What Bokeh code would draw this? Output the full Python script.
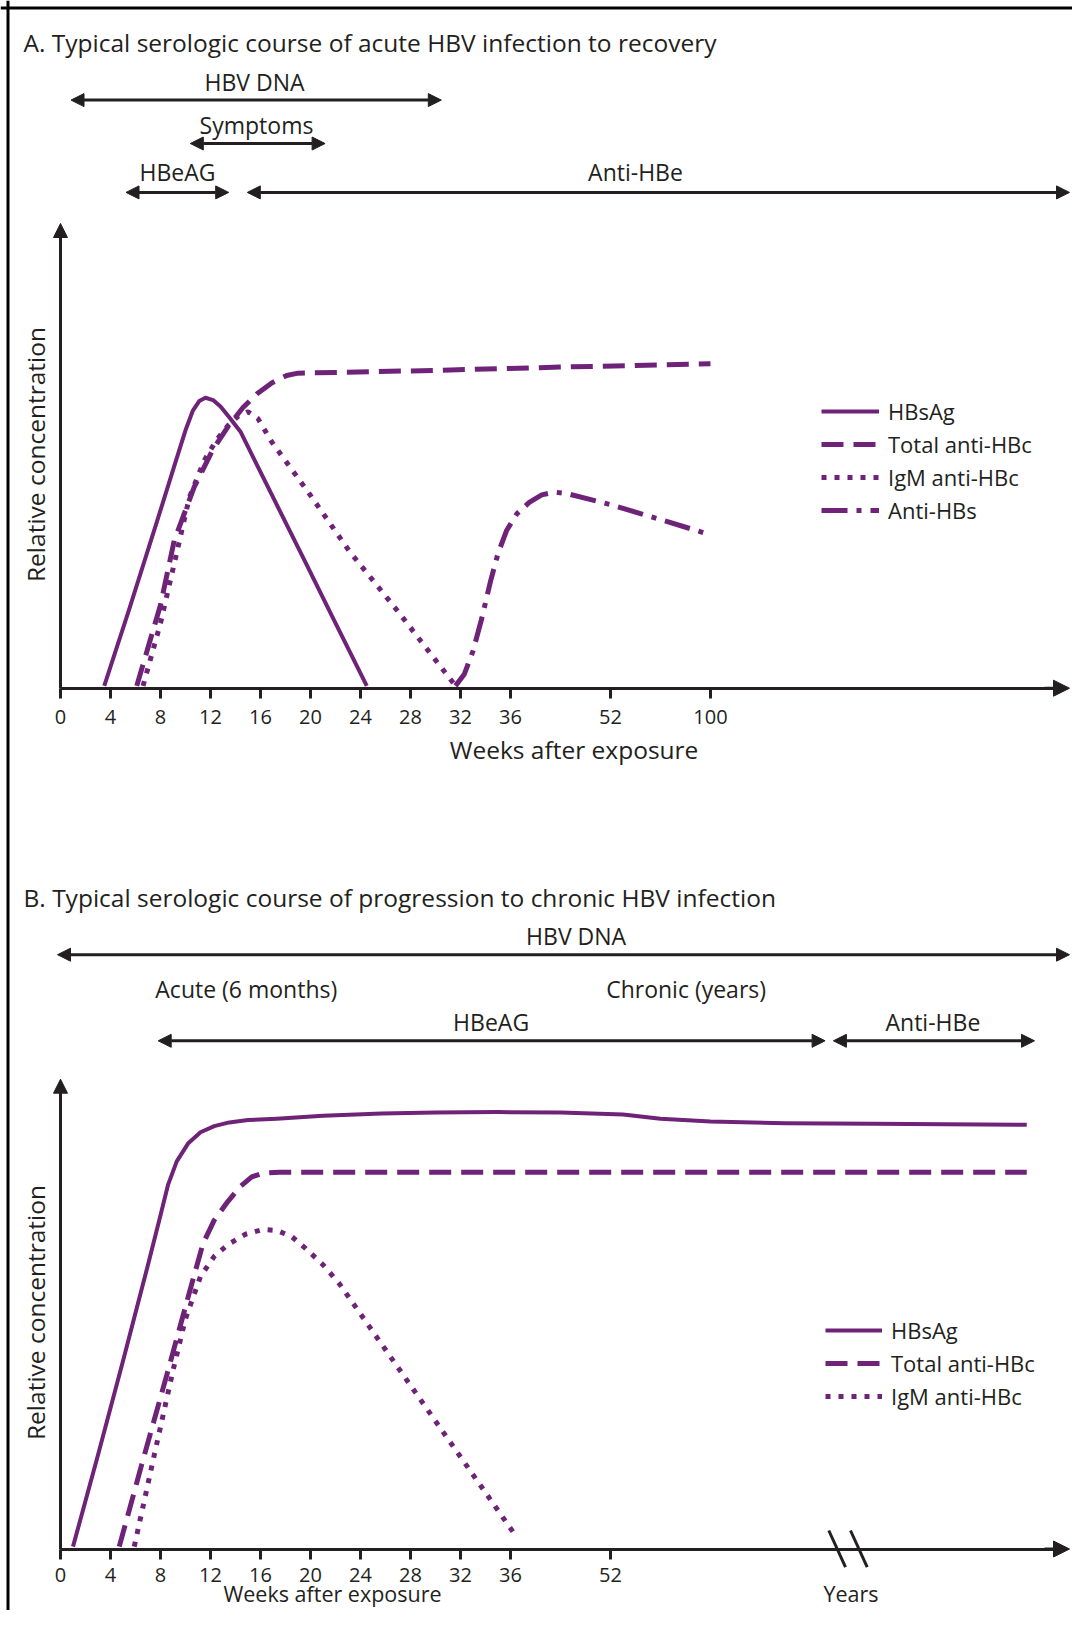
import math
from bokeh.plotting import figure
from bokeh.models import (Range1d, LinearAxis, FixedTicker, Arrow, NormalHead,
                          Label, Legend, LegendItem, Span)
from bokeh.embed import file_html
from bokeh.resources import INLINE

# ---------------- data (x in axis-position units; y = relative concentration, 0..100) -------------
tick_pos_a = [0, 4, 8, 12, 16, 20, 24, 28, 32, 36, 44, 52]
tick_lab_a = ["0", "4", "8", "12", "16", "20", "24", "28", "32", "36", "52", "100"]
tick_pos_b = [0, 4, 8, 12, 16, 20, 24, 28, 32, 36, 44]
tick_lab_b = ["0", "4", "8", "12", "16", "20", "24", "28", "32", "36", "52"]

# Panel A: acute infection to recovery
a_hbsag_x = [3.5, 5.5, 7.5, 9.3, 10.0, 10.6, 11.1, 11.6, 12.2, 12.8, 13.5, 14.4, 17.0, 19.5, 22.0, 24.5]
a_hbsag_y = [0.5, 17, 34, 49.5, 55.5, 59.8, 61.8, 62.5, 62.0, 60.6, 58.3, 55.2, 41.1, 27.6, 14.0, 0.5]
a_total_x = [6.1, 8.0, 9.1, 10.7, 12.2, 13.4, 14.6, 15.7, 16.9, 18.1, 19.0, 25, 30, 40, 52]
a_total_y = [0.5, 17.9, 31.8, 43.3, 51.4, 56.3, 60.4, 63.3, 65.7, 67.3, 67.8, 68.1, 68.4, 69.1, 69.8]
a_igm_x = [6.6, 8.0, 9.2, 10.3, 11.5, 12.5, 13.4, 14.2, 15.0, 15.8, 16.9, 20.0, 23.1, 27.0, 31.6]
a_igm_y = [0.5, 14, 28, 41, 49, 53.5, 56.5, 58.5, 59.5, 58, 53, 41.5, 29.5, 16.5, 0.5]
a_antihbs_x = [31.6, 32.3, 33.0, 33.7, 34.4, 35.0, 35.7, 36.5, 37.5, 38.5, 39.5, 40.5, 44, 48, 52]
a_antihbs_y = [0.5, 3, 8, 15, 23, 29, 34, 37.5, 40, 41.6, 42.2, 41.9, 39.5, 36.3, 33]

# Panel B: progression to chronic infection
b_hbsag_x = [1.0, 3.0, 5.0, 7.0, 7.9, 8.6, 9.3, 10.2, 11.2, 12.3, 13.5, 15.0, 17.3, 21, 25.7, 30, 35,
             40, 45, 48, 52, 58, 65, 77.3]
b_hbsag_y = [0.5, 20, 40, 60.5, 70, 77.5, 82.5, 86.3, 88.7, 90.0, 90.8, 91.3, 91.6, 92.2, 92.7, 92.9,
             93.0, 92.9, 92.5, 91.6, 91.0, 90.6, 90.5, 90.3]
b_total_x = [4.7, 6.5, 8.5, 10.3, 11.4, 12.3, 13.4, 14.4, 15.3, 16.2, 17.5, 30, 52, 77.3]
b_total_y = [0.5, 18, 37, 54.5, 65, 70, 74, 77.2, 79.2, 80, 80.2, 80.2, 80.2, 80.2]
b_igm_x = [5.9, 7.5, 9.0, 10.0, 11.2, 12.3, 13.4, 14.8, 16.2, 17.3, 18.5, 19.6, 21.0, 22.3, 36.5]
b_igm_y = [0.5, 20, 38, 49, 58, 62.3, 64.8, 67, 68, 67.8, 66.5, 64, 60.5, 56.5, 2.5]

series_names_a = ["HBsAg", "Total anti-HBc", "IgM anti-HBc", "Anti-HBs"]
series_names_b = ["HBsAg", "Total anti-HBc", "IgM anti-HBc"]

# ---------------- styling / layout ----------------
FONT = "Open Sans"
INK = "#231f20"
PURPLE = "#6e2378"
W, H = 1072, 1610

# page-pixel -> data-unit helpers
X0, PXU = 60.0, 12.5            # x position of axis origin, pixels per axis unit
YA0, YA_PX = 687.7, 4.647       # panel A baseline, px per unit
YB0, YB_PX = 1548.5, 4.698      # panel B baseline, px per unit


def xu(X):
    return (X - X0) / PXU


def yu(Y, panel):
    if panel == "A":
        return (YA0 - Y) / YA_PX
    return (YB0 - Y) / YB_PX


p = figure(width=W, height=H, output_backend="svg", toolbar_location=None,
           x_axis_type=None, y_axis_type=None, min_border=0,
           x_range=Range1d(xu(0), xu(W)),
           y_range=Range1d(yu(H, "A"), yu(0, "A")),
           outline_line_color=None, background_fill_color="white",
           border_fill_color="white")
p.extra_y_ranges = {"B": Range1d(yu(H, "B"), yu(0, "B"))}

# outer frame (left and top edges)
p.add_layout(Span(location=xu(7.5), dimension="height", line_color="black", line_width=3))
p.add_layout(Span(location=yu(7.5, "A"), dimension="width", line_color="black", line_width=3))

X_END = xu(1069)


def axes(panel, ticks, labels, standoff):
    rng = {} if panel == "A" else {"y_range_name": "B"}
    xa = LinearAxis(fixed_location=0, bounds=(0, X_END - 0.5), ticker=FixedTicker(ticks=ticks),
                    major_label_overrides={t: l for t, l in zip(ticks, labels)},
                    axis_line_width=3, axis_line_color=INK,
                    major_tick_line_width=3, major_tick_line_color=INK,
                    major_tick_out=10, major_tick_in=0, minor_tick_line_color=None,
                    major_label_text_font=FONT, major_label_text_font_size="20px",
                    major_label_text_color=INK, major_label_standoff=standoff, **rng)
    p.add_layout(xa, "below")
    ya = LinearAxis(fixed_location=0, bounds=(0, 98), ticker=FixedTicker(ticks=[]),
                    axis_line_width=3, axis_line_color=INK, major_tick_line_color=None,
                    minor_tick_line_color=None, major_label_text_font_size="0px", **rng)
    p.add_layout(ya, "left")
    p.add_layout(Arrow(x_start=X_END - 2, y_start=0, x_end=X_END, y_end=0, line_width=3,
                       line_color=INK, end=NormalHead(size=16, fill_color=INK, line_color=INK),
                       **rng))
    p.add_layout(Arrow(x_start=0, y_start=95, x_end=0, y_end=100, line_width=3,
                       line_color=INK, end=NormalHead(size=14, fill_color=INK, line_color=INK),
                       **rng))


axes("A", tick_pos_a, tick_lab_a, 12)
axes("B", tick_pos_b, tick_lab_b, 9)


def text(s, X, Y, panel, size="23px", align="center", angle=0.0):
    rng = {} if panel == "A" else {"y_range_name": "B"}
    p.add_layout(Label(x=xu(X), y=yu(Y, panel), text=s, text_font=FONT, text_font_size=size,
                       text_color=INK, text_align=align, text_baseline="middle",
                       angle=angle, **rng))


def darrow(X1, X2, Y, panel):
    rng = {} if panel == "A" else {"y_range_name": "B"}
    p.add_layout(Arrow(x_start=xu(X1), y_start=yu(Y, panel), x_end=xu(X2), y_end=yu(Y, panel),
                       line_width=3, line_color=INK,
                       start=NormalHead(size=13, fill_color=INK, line_color=INK),
                       end=NormalHead(size=13, fill_color=INK, line_color=INK), **rng))


BIG = "24.5px"

# ---- Panel A texts and period arrows ----
text("A. Typical serologic course of acute HBV infection to recovery", 23, 41.5, "A",
     size=BIG, align="left")
text("HBV DNA", 254, 81, "A")
darrow(70.5, 440.8, 99.6, "A")
text("Symptoms", 256, 124.5, "A")
darrow(189.8, 324.6, 143, "A")
text("HBeAG", 177, 171, "A")
darrow(125.5, 228.2, 191.9, "A")
text("Anti-HBe", 635, 171, "A")
darrow(246.8, 1069, 191.9, "A")
text("Relative concentration", 34.5, 454, "A", size=BIG, angle=math.pi / 2)
text("Weeks after exposure", 573.6, 748.8, "A", size=BIG)

# ---- Panel B texts and period arrows ----
text("B. Typical serologic course of progression to chronic HBV infection", 23, 897, "B",
     size=BIG, align="left")
text("HBV DNA", 575.6, 935.5, "B")
darrow(57, 1069, 954.2, "B")
text("Acute (6 months)", 245.8, 988.5, "B")
text("Chronic (years)", 685.6, 988.5, "B")
text("HBeAG", 490.6, 1021.6, "B")
darrow(157.7, 824.6, 1040.3, "B")
text("Anti-HBe", 932.4, 1021.6, "B")
darrow(832.9, 1034, 1040.3, "B")
text("Relative concentration", 34.5, 1312, "B", size=BIG, angle=math.pi / 2)
text("Weeks after exposure", 332, 1593, "B", size="21.5px")
text("Years", 850.5, 1593, "B", size="21.5px")

# axis break mark on panel B
p.segment(x0=[xu(828.3), xu(850)], y0=[yu(1530, "B")] * 2,
          x1=[xu(845), xu(866.7)], y1=[yu(1566.7, "B")] * 2,
          line_color=INK, line_width=3, y_range_name="B")

# ---- curves ----
styles = [dict(line_dash="solid", line_width=4, line_join="round"),
          dict(line_dash="22 10", line_width=5),
          dict(line_dash="5 8", line_width=5),
          dict(line_dash="26 9 5 9", line_width=5)]

a_series = [(a_hbsag_x, a_hbsag_y), (a_total_x, a_total_y), (a_igm_x, a_igm_y),
            (a_antihbs_x, a_antihbs_y)]
b_series = [(b_hbsag_x, b_hbsag_y), (b_total_x, b_total_y), (b_igm_x, b_igm_y)]

ra = [p.line(x, y, line_color=PURPLE, **st) for (x, y), st in zip(a_series, styles)]
rb = [p.line(x, y, line_color=PURPLE, y_range_name="B", **st) for (x, y), st in zip(b_series, styles)]

leg_common = dict(orientation="vertical", glyph_height=20, label_height=20, spacing=3,
                  padding=0, margin=0, border_line_color=None, background_fill_alpha=0,
                  label_text_font=FONT, label_text_font_size="22px", label_text_color=INK)
legA = Legend(items=[LegendItem(label=n, renderers=[r]) for n, r in zip(series_names_a, ra)],
              location=(821, H - 525.4), glyph_width=58, label_standoff=9, **leg_common)
legB = Legend(items=[LegendItem(label=n, renderers=[r]) for n, r in zip(series_names_b, rb)],
              location=(825, H - 1411.3), glyph_width=57, label_standoff=9, **leg_common)
p.add_layout(legA)
p.add_layout(legB)

open("out.html", "w").write(file_html(p, INLINE))
